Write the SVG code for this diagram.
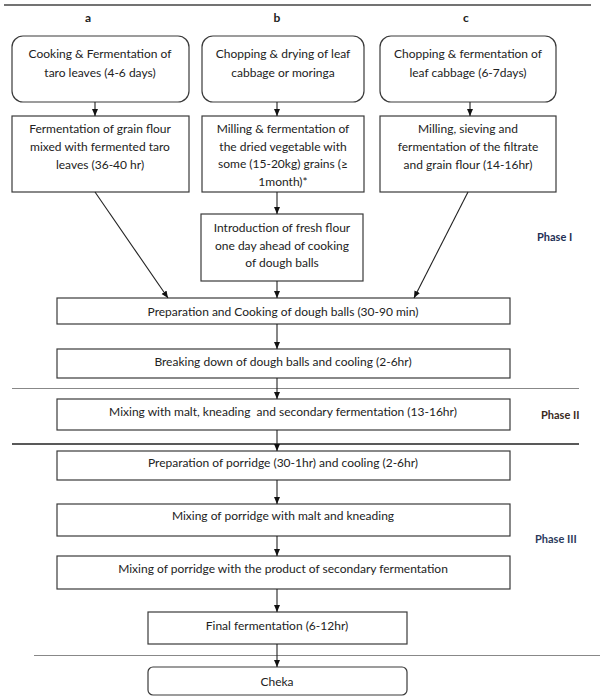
<svg xmlns="http://www.w3.org/2000/svg" width="602" height="699" viewBox="0 0 602 699">
<style>
.box{fill:#fff;stroke:#3a3a3a;stroke-width:1.2}
.t{font-family:Lato,"Liberation Sans",sans-serif;font-size:12px;fill:#222;text-anchor:middle;dominant-baseline:central}
.h{font-family:Lato,"Liberation Sans",sans-serif;font-size:12px;font-weight:bold;fill:#222;text-anchor:middle;dominant-baseline:central}
.ph{font-family:Lato,"Liberation Sans",sans-serif;font-size:11px;font-weight:bold;dominant-baseline:central}
.c{stroke:#222;stroke-width:1.1;fill:none;marker-end:url(#ah)}
</style>
<defs>
<marker id="ah" markerWidth="8" markerHeight="8" refX="7" refY="4" orient="auto" markerUnits="userSpaceOnUse">
<path d="M0,1 L7,4 L0,7 Z" fill="#111"/>
</marker>
</defs>
<g id="rules">
<line x1="4" y1="5" x2="591" y2="5" stroke="#444" stroke-width="1.5"/>
<line x1="12" y1="388.5" x2="579" y2="388.5" stroke="#888" stroke-width="1"/>
<line x1="12" y1="444" x2="579" y2="444" stroke="#222" stroke-width="1.4"/>
<line x1="34" y1="655.5" x2="600" y2="655.5" stroke="#888" stroke-width="1"/>
</g>
<g id="headers">
<text class="h" x="88" y="17">a</text>
<text class="h" x="277" y="17">b</text>
<text class="h" x="466" y="17">c</text>
</g>
<g id="phases">
<text class="ph" x="537" y="236" fill="#1f2f55">Phase I</text>
<text class="ph" x="541" y="414" fill="#3b2a1c">Phase II</text>
<text class="ph" x="535" y="538" fill="#2c3a5c">Phase III</text>
</g>
<g id="a1"><rect class="box" x="12" y="36" width="177" height="66" rx="11"/>
<text class="t" x="100" y="53">Cooking &amp; Fermentation of</text>
<text class="t" x="100" y="72">taro leaves (4-6 days)</text></g>
<g id="b1"><rect class="box" x="202" y="36" width="162" height="66" rx="11"/>
<text class="t" x="283" y="53">Chopping &amp; drying of leaf</text>
<text class="t" x="283" y="72">cabbage or moringa</text></g>
<g id="c1"><rect class="box" x="380" y="36" width="176" height="66" rx="11"/>
<text class="t" x="468" y="53">Chopping &amp; fermentation of</text>
<text class="t" x="468" y="72">leaf cabbage (6-7days)</text></g>
<g id="a2"><rect class="box" x="12" y="116" width="177" height="76"/>
<text class="t" x="100" y="128">Fermentation of grain flour</text>
<text class="t" x="100" y="146">mixed with fermented taro</text>
<text class="t" x="100" y="164">leaves (36-40 hr)</text></g>
<g id="b2"><rect class="box" x="202" y="116" width="162" height="76"/>
<text class="t" x="283" y="128">Milling &amp; fermentation of</text>
<text class="t" x="283" y="146">the dried vegetable with</text>
<text class="t" x="283" y="163">some (15-20kg) grains (≥</text>
<text class="t" x="283" y="181">1month)*</text></g>
<g id="c2"><rect class="box" x="380" y="116" width="176" height="76"/>
<text class="t" x="468" y="128">Milling, sieving and</text>
<text class="t" x="468" y="146">fermentation of the filtrate</text>
<text class="t" x="468" y="164">and grain flour (14-16hr)</text></g>
<g id="b3"><rect class="box" x="201" y="214" width="162" height="67"/>
<text class="t" x="282" y="227">Introduction of fresh flour</text>
<text class="t" x="282" y="245">one day ahead of cooking</text>
<text class="t" x="282" y="262">of dough balls</text></g>
<g id="cook"><rect class="box" x="57" y="298" width="453" height="26"/>
<text class="t" x="283" y="311">Preparation and Cooking of dough balls (30-90 min)</text></g>
<g id="breaking"><rect class="box" x="57" y="349" width="453" height="29"/>
<text class="t" x="283" y="361">Breaking down of dough balls and cooling (2-6hr)</text></g>
<g id="malt"><rect class="box" x="57" y="399" width="453" height="31"/>
<text class="t" x="283" y="411" xml:space="preserve">Mixing with malt, kneading  and secondary fermentation (13-16hr)</text></g>
<g id="porridge"><rect class="box" x="57" y="451" width="453" height="29"/>
<text class="t" x="283" y="462">Preparation of porridge (30-1hr) and cooling (2-6hr)</text></g>
<g id="porridgemalt"><rect class="box" x="57" y="504" width="453" height="32"/>
<text class="t" x="283" y="515">Mixing of porridge with malt and kneading</text></g>
<g id="porridgeproduct"><rect class="box" x="57" y="556" width="453" height="33"/>
<text class="t" x="283" y="568">Mixing of porridge with the product of secondary fermentation</text></g>
<g id="final"><rect class="box" x="148" y="612" width="259" height="32"/>
<text class="t" x="277" y="625">Final fermentation (6-12hr)</text></g>
<g id="cheka"><rect class="box" x="148" y="667" width="259" height="28" rx="5"/>
<text class="t" x="277" y="681">Cheka</text></g>
<g id="connectors">
<line class="c" x1="95" y1="102" x2="95" y2="116"/>
<line class="c" x1="277" y1="102" x2="277" y2="116"/>
<line class="c" x1="470" y1="102" x2="470" y2="116"/>
<line class="c" x1="277" y1="192" x2="277" y2="214"/>
<line class="c" x1="95" y1="192" x2="168" y2="298"/>
<line class="c" x1="468" y1="192" x2="414" y2="298"/>
<line class="c" x1="277" y1="281" x2="277" y2="298"/>
<line class="c" x1="277" y1="324" x2="277" y2="349"/>
<line class="c" x1="277" y1="378" x2="277" y2="399"/>
<line class="c" x1="277" y1="430" x2="277" y2="451"/>
<line class="c" x1="277" y1="480" x2="277" y2="504"/>
<line class="c" x1="277" y1="536" x2="277" y2="556"/>
<line class="c" x1="277" y1="589" x2="277" y2="612"/>
<line class="c" x1="277" y1="644" x2="277" y2="667"/>
</g>
</svg>
